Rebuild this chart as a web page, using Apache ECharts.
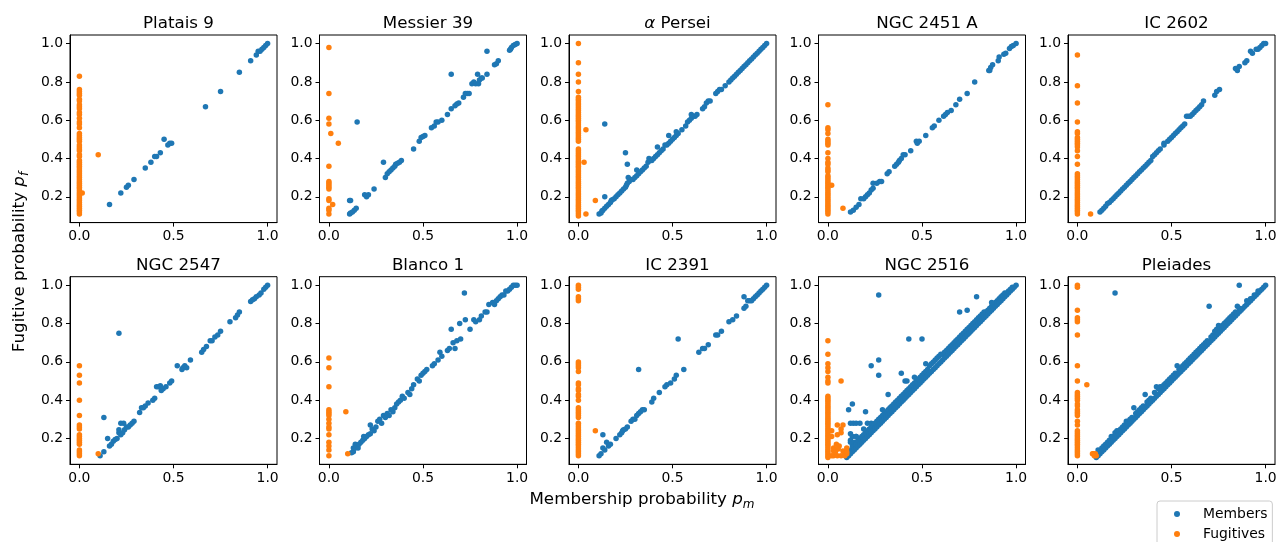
<!DOCTYPE html>
<html>
<head>
<meta charset="utf-8">
<script src="https://cdn.jsdelivr.net/npm/echarts@6/dist/echarts.min.js"></script>
<style>
  html, body { margin: 0; padding: 0; background: #fff; }
  #main { width: 1284px; height: 542px; }
</style>
</head>
<body>
<div id="main"></div>
<script>
// panel titles
var clusterNames = ['Platais 9', 'Messier 39', '{a|α} Persei', 'NGC 2451 A', 'IC 2602',
    'NGC 2547', 'Blanco 1', 'IC 2391', 'NGC 2516', 'Pleiades'];

var xTicks = [0, 0.5, 1.0];
var yTicks = [0.2, 0.4, 0.6, 0.8, 1.0];

// Platais 9
var platais9Members = [[0.16,0.16],[0.22,0.22],[0.25,0.25],[0.26,0.26],[0.29,0.29],[0.35,0.35],[0.38,0.38],[0.40,0.41],[0.41,0.41],[0.43,0.43],[0.45,0.50],[0.47,0.47],[0.48,0.48],[0.49,0.48],[0.67,0.67],[0.75,0.75],[0.85,0.85],[0.91,0.91],[0.94,0.94],[0.95,0.96],[0.96,0.96],[0.97,0.97],[0.98,0.98],[0.99,0.99],[1.0,1.0]];
var platais9FugZero = [0.83,0.76,0.75,0.74,0.73,0.71,0.70,0.68,0.67,0.66,0.64,0.63,0.61,0.59,0.58,0.56,0.53,0.52,0.51,0.50,0.49,0.47,0.46,0.45,0.44,0.42,0.41,0.39,0.38,0.37,0.36,0.35,0.34,0.33,0.32,0.31,0.30,0.29,0.28,0.27,0.26,0.25,0.24,0.23,0.22,0.21,0.20,0.19,0.18,0.17,0.16,0.15,0.14,0.13,0.12,0.11];
var platais9FugOther = [[0.10,0.42],[0.015,0.22]];

// Messier 39
var messier39Members = [[0.11,0.18],[0.115,0.18],[0.11,0.11],[0.115,0.115],[0.125,0.12],[0.135,0.13],[0.145,0.14],[0.15,0.59],[0.19,0.21],[0.20,0.20],[0.21,0.21],[0.24,0.24],[0.29,0.38],[0.30,0.30],[0.31,0.32],[0.32,0.33],[0.33,0.34],[0.34,0.35],[0.35,0.36],[0.355,0.37],[0.365,0.375],[0.375,0.38],[0.385,0.39],[0.45,0.45],[0.48,0.49],[0.49,0.51],[0.50,0.515],[0.51,0.52],[0.545,0.56],[0.56,0.57],[0.57,0.59],[0.58,0.59],[0.60,0.60],[0.63,0.63],[0.65,0.84],[0.65,0.66],[0.67,0.675],[0.68,0.685],[0.69,0.69],[0.715,0.72],[0.725,0.74],[0.735,0.74],[0.745,0.74],[0.76,0.79],[0.77,0.80],[0.78,0.79],[0.79,0.84],[0.795,0.79],[0.80,0.81],[0.81,0.82],[0.815,0.82],[0.84,0.96],[0.84,0.84],[0.88,0.89],[0.89,0.895],[0.90,0.91],[0.96,0.965],[0.965,0.97],[0.97,0.98],[0.98,0.99],[0.99,0.995],[1.0,1.0]];
var messier39FugZero = [0.98,0.74,0.61,0.58,0.36,0.28,0.27,0.26,0.25,0.24,0.19,0.18,0.14,0.13,0.11];
var messier39FugOther = [[0.01,0.53],[0.05,0.48],[0.02,0.16]];

// alpha Persei
var alphaPerMembers = [[0.11,0.11],[0.12,0.115],[0.125,0.125],[0.13,0.13],[0.14,0.14],[0.15,0.15],[0.16,0.16],[0.17,0.17],[0.175,0.18],[0.18,0.185],[0.19,0.19],[0.20,0.20],[0.21,0.21],[0.22,0.22],[0.23,0.23],[0.24,0.24],[0.25,0.25],[0.255,0.26],[0.26,0.27],[0.27,0.28],[0.28,0.29],[0.29,0.29],[0.30,0.30],[0.31,0.31],[0.32,0.32],[0.33,0.33],[0.34,0.34],[0.35,0.35],[0.36,0.36],[0.37,0.38],[0.375,0.40],[0.38,0.39],[0.39,0.39],[0.40,0.40],[0.41,0.41],[0.42,0.42],[0.43,0.43],[0.44,0.44],[0.45,0.45],[0.46,0.47],[0.47,0.47],[0.48,0.48],[0.49,0.49],[0.50,0.50],[0.51,0.51],[0.52,0.52],[0.53,0.53],[0.55,0.55],[0.57,0.57],[0.58,0.59],[0.59,0.60],[0.60,0.61],[0.61,0.62],[0.62,0.62],[0.63,0.63],[0.66,0.66],[0.67,0.67],[0.68,0.69],[0.69,0.70],[0.70,0.70],[0.73,0.74],[0.74,0.75],[0.75,0.76],[0.76,0.76],[0.78,0.78],[0.80,0.80],[0.81,0.81],[0.82,0.82],[0.83,0.83],[0.84,0.84],[0.85,0.85],[0.86,0.86],[0.87,0.87],[0.88,0.88],[0.89,0.89],[0.90,0.90],[0.91,0.91],[0.92,0.92],[0.93,0.93],[0.94,0.94],[0.95,0.95],[0.96,0.96],[0.97,0.97],[0.98,0.98],[0.99,0.99],[1.0,1.0],
    [0.14,0.58],[0.14,0.20],[0.25,0.43],[0.26,0.37],[0.265,0.30],[0.31,0.34],[0.42,0.46],[0.48,0.52],[0.52,0.54],[0.60,0.63]];
var alphaPerFugZero = [1.0,0.90,0.84,0.80,0.75,0.72,0.71,0.70,0.69,0.68,0.67,0.66,0.65,0.64,0.63,0.62,0.61,0.60,0.59,0.58,0.57,0.56,0.55,0.54,0.53,0.52,0.51,0.50,0.49,0.45,0.44,0.43,0.42,0.41,0.40,0.39,0.38,0.37,0.36,0.35,0.34,0.33,0.32,0.31,0.30,0.29,0.28,0.27,0.26,0.25,0.24,0.23,0.22,0.21,0.20,0.19,0.18,0.17,0.16,0.15,0.14,0.13,0.12,0.11,0.10];
var alphaPerFugOther = [[0.04,0.55],[0.03,0.38],[0.09,0.18],[0.04,0.11]];

// NGC 2451 A
var ngc2451Members = [[0.12,0.12],[0.135,0.13],[0.15,0.145],[0.165,0.16],[0.175,0.19],[0.19,0.19],[0.20,0.20],[0.21,0.21],[0.22,0.22],[0.23,0.235],[0.24,0.245],[0.24,0.27],[0.26,0.27],[0.275,0.28],[0.285,0.28],[0.315,0.32],[0.325,0.33],[0.355,0.36],[0.365,0.37],[0.375,0.38],[0.38,0.39],[0.39,0.40],[0.40,0.42],[0.41,0.42],[0.44,0.44],[0.47,0.49],[0.475,0.48],[0.485,0.49],[0.52,0.52],[0.555,0.56],[0.565,0.57],[0.59,0.60],[0.615,0.62],[0.625,0.63],[0.635,0.64],[0.655,0.65],[0.68,0.68],[0.70,0.71],[0.74,0.74],[0.78,0.80],[0.855,0.86],[0.86,0.86],[0.865,0.875],[0.875,0.89],[0.905,0.91],[0.91,0.93],[0.935,0.945],[0.945,0.95],[0.965,0.975],[0.975,0.985],[0.985,0.99],[1.0,1.0]];
var ngc2451FugZero = [0.68,0.56,0.55,0.53,0.50,0.49,0.48,0.47,0.43,0.40,0.38,0.37,0.35,0.34,0.33,0.31,0.30,0.29,0.28,0.27,0.26,0.25,0.24,0.23,0.22,0.21,0.20,0.19,0.18,0.17,0.16,0.15,0.14,0.13,0.12,0.11];
var ngc2451FugOther = [[0.02,0.26],[0.08,0.14]];

// IC 2602
var ic2602Members = [[0.12,0.12],[0.13,0.13],[0.14,0.14],[0.15,0.15],[0.16,0.165],[0.17,0.17],[0.18,0.18],[0.19,0.19],[0.20,0.20],[0.21,0.21],[0.22,0.22],[0.23,0.23],[0.24,0.24],[0.25,0.25],[0.26,0.26],[0.27,0.27],[0.28,0.28],[0.29,0.29],[0.30,0.30],[0.31,0.31],[0.32,0.32],[0.33,0.33],[0.34,0.34],[0.35,0.35],[0.36,0.36],[0.37,0.37],[0.38,0.38],[0.39,0.39],[0.40,0.41],[0.41,0.42],[0.42,0.43],[0.43,0.44],[0.44,0.45],[0.46,0.47],[0.46,0.48],[0.48,0.49],[0.49,0.50],[0.50,0.51],[0.51,0.52],[0.52,0.53],[0.53,0.54],[0.54,0.55],[0.55,0.56],[0.56,0.57],[0.57,0.58],[0.58,0.62],[0.59,0.62],[0.60,0.62],[0.61,0.63],[0.62,0.64],[0.63,0.65],[0.64,0.66],[0.65,0.67],[0.66,0.68],[0.67,0.70],[0.73,0.73],[0.74,0.75],[0.755,0.76],[0.84,0.87],[0.85,0.86],[0.86,0.88],[0.89,0.90],[0.90,0.91],[0.92,0.96],[0.93,0.95],[0.95,0.97],[0.96,0.97],[0.97,0.98],[0.98,0.99],[0.99,1.0],[1.0,1.0]];
var ic2602FugZero = [0.94,0.78,0.69,0.59,0.54,0.53,0.51,0.50,0.49,0.48,0.47,0.46,0.44,0.41,0.37,0.32,0.31,0.30,0.29,0.28,0.27,0.26,0.25,0.24,0.23,0.22,0.21,0.20,0.19,0.18,0.17,0.16,0.15,0.14,0.13,0.12,0.11];
var ic2602FugOther = [[0.07,0.11]];

// NGC 2547
var ngc2547Members = [[0.11,0.11],[0.13,0.31],[0.13,0.13],[0.15,0.20],[0.16,0.16],[0.17,0.17],[0.18,0.185],[0.19,0.195],[0.20,0.20],[0.21,0.23],[0.21,0.75],[0.21,0.245],[0.22,0.28],[0.235,0.28],[0.25,0.26],[0.22,0.22],[0.23,0.23],[0.24,0.245],[0.26,0.26],[0.27,0.27],[0.28,0.28],[0.29,0.29],[0.32,0.335],[0.33,0.36],[0.34,0.36],[0.35,0.37],[0.365,0.385],[0.39,0.40],[0.40,0.41],[0.41,0.47],[0.42,0.47],[0.43,0.475],[0.435,0.45],[0.445,0.46],[0.46,0.47],[0.48,0.49],[0.49,0.50],[0.52,0.58],[0.545,0.56],[0.55,0.57],[0.56,0.58],[0.57,0.57],[0.59,0.61],[0.65,0.65],[0.66,0.665],[0.675,0.68],[0.695,0.71],[0.705,0.71],[0.72,0.73],[0.735,0.74],[0.75,0.76],[0.80,0.81],[0.83,0.83],[0.84,0.845],[0.85,0.86],[0.91,0.915],[0.92,0.925],[0.93,0.93],[0.94,0.94],[0.955,0.95],[0.965,0.96],[0.98,0.98],[0.99,0.99],[1.0,1.0]];
var ngc2547FugZero = [0.58,0.53,0.49,0.40,0.32,0.27,0.26,0.25,0.22,0.21,0.20,0.19,0.18,0.17,0.14,0.13,0.12,0.11];
var ngc2547FugOther = [[0.10,0.12]];

// Blanco 1
var blanco1Members = [[0.12,0.125],[0.13,0.13],[0.13,0.15],[0.14,0.17],[0.14,0.15],[0.155,0.15],[0.16,0.17],[0.17,0.18],[0.18,0.19],[0.185,0.21],[0.19,0.20],[0.20,0.21],[0.21,0.22],[0.22,0.225],[0.22,0.27],[0.23,0.25],[0.24,0.24],[0.25,0.26],[0.26,0.29],[0.27,0.30],[0.28,0.28],[0.29,0.32],[0.30,0.31],[0.31,0.33],[0.32,0.32],[0.33,0.35],[0.34,0.34],[0.35,0.36],[0.36,0.38],[0.37,0.39],[0.38,0.40],[0.39,0.42],[0.40,0.41],[0.42,0.44],[0.43,0.43],[0.44,0.46],[0.45,0.48],[0.47,0.51],[0.48,0.50],[0.49,0.53],[0.50,0.54],[0.51,0.55],[0.52,0.56],[0.55,0.58],[0.56,0.59],[0.58,0.61],[0.59,0.65],[0.60,0.63],[0.63,0.66],[0.64,0.67],[0.65,0.77],[0.67,0.67],[0.66,0.70],[0.68,0.71],[0.70,0.72],[0.695,0.80],[0.725,0.82],[0.72,0.96],[0.75,0.77],[0.77,0.82],[0.78,0.81],[0.80,0.82],[0.81,0.84],[0.83,0.86],[0.84,0.86],[0.85,0.90],[0.87,0.91],[0.88,0.90],[0.89,0.92],[0.90,0.93],[0.91,0.94],[0.92,0.95],[0.93,0.95],[0.94,0.97],[0.95,0.97],[0.96,0.98],[0.97,0.99],[0.98,1.0],[0.99,1.0],[1.0,1.0]];
var blanco1FugZero = [0.62,0.57,0.47,0.35,0.34,0.33,0.32,0.30,0.28,0.26,0.25,0.22,0.18,0.16,0.14,0.11];
var blanco1FugOther = [[0.09,0.34],[0.10,0.12]];

// IC 2391
var ic2391Members = [[0.11,0.11],[0.12,0.12],[0.13,0.15],[0.13,0.22],[0.14,0.14],[0.15,0.18],[0.16,0.16],[0.17,0.17],[0.20,0.20],[0.22,0.22],[0.23,0.23],[0.235,0.24],[0.24,0.245],[0.25,0.25],[0.26,0.26],[0.28,0.29],[0.29,0.30],[0.30,0.30],[0.31,0.32],[0.32,0.56],[0.32,0.33],[0.33,0.34],[0.34,0.35],[0.35,0.35],[0.39,0.39],[0.40,0.41],[0.43,0.44],[0.46,0.47],[0.47,0.48],[0.49,0.49],[0.51,0.51],[0.52,0.53],[0.53,0.72],[0.56,0.56],[0.64,0.65],[0.66,0.67],[0.67,0.67],[0.69,0.69],[0.73,0.74],[0.74,0.74],[0.76,0.76],[0.80,0.81],[0.82,0.82],[0.84,0.84],[0.88,0.94],[0.88,0.88],[0.89,0.89],[0.90,0.92],[0.91,0.92],[0.92,0.92],[0.93,0.93],[0.94,0.94],[0.95,0.95],[0.96,0.96],[0.97,0.97],[0.98,0.98],[0.99,0.99],[1.0,1.0]];
var ic2391FugZero = [1.0,0.99,0.98,0.94,0.93,0.92,0.60,0.59,0.58,0.57,0.55,0.49,0.48,0.46,0.45,0.43,0.42,0.40,0.36,0.35,0.34,0.33,0.32,0.31,0.28,0.27,0.26,0.25,0.24,0.23,0.22,0.21,0.20,0.19,0.18,0.17,0.16,0.15,0.14,0.13,0.12,0.11];
var ic2391FugOther = [[0.09,0.24]];

// NGC 2516
var ngc2516Members = [[0.10,0.10],[0.11,0.11],[0.11,0.13],[0.12,0.12],[0.12,0.14],[0.12,0.19],[0.13,0.13],[0.13,0.16],[0.13,0.21],[0.14,0.14],[0.14,0.18],[0.15,0.15],[0.15,0.17],[0.15,0.21],[0.16,0.16],[0.16,0.19],[0.17,0.17],[0.17,0.20],[0.18,0.18],[0.18,0.21],[0.19,0.19],[0.19,0.22],[0.20,0.20],[0.20,0.23],[0.21,0.21],[0.21,0.24],[0.22,0.22],[0.22,0.25],[0.23,0.23],[0.23,0.26],[0.24,0.24],[0.24,0.27],[0.25,0.25],[0.25,0.28],[0.26,0.26],[0.26,0.29],[0.27,0.27],[0.27,0.30],[0.28,0.28],[0.28,0.31],[0.29,0.29],[0.29,0.32],[0.30,0.30],[0.30,0.33],[0.31,0.31],[0.31,0.34],[0.32,0.32],[0.32,0.35],[0.33,0.33],[0.33,0.36],[0.34,0.34],[0.34,0.37],[0.35,0.35],[0.35,0.38],[0.36,0.36],[0.36,0.39],[0.37,0.37],[0.37,0.40],[0.38,0.38],[0.38,0.41],[0.39,0.39],[0.39,0.42],[0.40,0.40],[0.40,0.43],[0.41,0.41],[0.41,0.44],[0.42,0.42],[0.42,0.45],[0.43,0.43],[0.43,0.46],[0.44,0.44],[0.44,0.47],[0.45,0.45],[0.45,0.48],[0.46,0.46],[0.46,0.49],[0.47,0.47],[0.47,0.50],[0.48,0.48],[0.48,0.51],[0.49,0.49],[0.49,0.52],[0.50,0.50],[0.50,0.53],[0.51,0.51],[0.51,0.54],[0.52,0.52],[0.52,0.55],[0.53,0.53],[0.53,0.56],[0.54,0.54],[0.54,0.58],[0.55,0.55],[0.55,0.59],[0.56,0.56],[0.56,0.60],[0.57,0.57],[0.57,0.61],[0.58,0.58],[0.58,0.62],[0.59,0.59],[0.59,0.63],[0.60,0.60],[0.60,0.64],[0.61,0.61],[0.61,0.64],[0.62,0.62],[0.62,0.65],[0.63,0.63],[0.63,0.66],[0.64,0.64],[0.64,0.67],[0.65,0.65],[0.65,0.68],[0.66,0.66],[0.66,0.69],[0.67,0.67],[0.67,0.70],[0.68,0.68],[0.68,0.71],[0.69,0.69],[0.69,0.72],[0.70,0.70],[0.70,0.73],[0.71,0.71],[0.71,0.74],[0.72,0.72],[0.72,0.75],[0.73,0.73],[0.73,0.76],[0.74,0.74],[0.74,0.77],[0.75,0.75],[0.75,0.78],[0.76,0.76],[0.76,0.79],[0.77,0.77],[0.77,0.80],[0.78,0.78],[0.78,0.81],[0.79,0.79],[0.79,0.82],[0.80,0.80],[0.80,0.83],[0.81,0.81],[0.81,0.84],[0.82,0.82],[0.82,0.85],[0.83,0.83],[0.83,0.86],[0.84,0.84],[0.84,0.86],[0.85,0.85],[0.85,0.87],[0.86,0.86],[0.86,0.88],[0.87,0.87],[0.87,0.89],[0.88,0.88],[0.88,0.90],[0.89,0.89],[0.89,0.91],[0.90,0.90],[0.90,0.92],[0.91,0.91],[0.91,0.93],[0.92,0.92],[0.92,0.94],[0.93,0.93],[0.93,0.95],[0.94,0.94],[0.94,0.96],[0.95,0.95],[0.95,0.96],[0.96,0.96],[0.96,0.97],[0.97,0.97],[0.97,0.98],[0.98,0.98],[0.98,0.99],[0.99,0.99],[1.0,1.0],
    [0.27,0.95],[0.43,0.72],[0.50,0.72],[0.27,0.61],[0.27,0.53],[0.23,0.58],[0.39,0.54],[0.32,0.43],[0.41,0.50],[0.42,0.50],[0.46,0.52],[0.52,0.59],[0.13,0.38],[0.11,0.35],[0.20,0.34],[0.12,0.28],[0.135,0.28],[0.15,0.28],[0.17,0.28],[0.19,0.25],[0.21,0.28],[0.23,0.28],[0.12,0.225],[0.12,0.18],[0.15,0.21],[0.70,0.86],[0.74,0.87],[0.79,0.94],[0.87,0.91],[0.29,0.35]];
var ngc2516FugZero = [0.71,0.64,0.59,0.57,0.55,0.52,0.50,0.49,0.42,0.41,0.40,0.39,0.38,0.37,0.36,0.35,0.34,0.33,0.32,0.31,0.30,0.29,0.28,0.27,0.26,0.25,0.24,0.23,0.22,0.21,0.20,0.19,0.18,0.17,0.16,0.15,0.14,0.13,0.12,0.11,0.10];
var ngc2516FugOther = [[0.07,0.50],[0.02,0.24],[0.02,0.21],[0.05,0.27],[0.07,0.25],[0.08,0.27],[0.05,0.22],[0.07,0.23],[0.045,0.17],[0.06,0.16],[0.03,0.135],[0.055,0.145],[0.08,0.135],[0.09,0.12],[0.03,0.11],[0.05,0.11],[0.07,0.11],[0.09,0.11],[0.10,0.12],[0.10,0.13],[0.02,0.11],[0.04,0.13],[0.03,0.15],[0.10,0.15]];

// Pleiades
var pleiadesMembers = [[0.10,0.10],[0.11,0.11],[0.11,0.14],[0.12,0.12],[0.12,0.13],[0.13,0.13],[0.13,0.15],[0.14,0.14],[0.14,0.16],[0.15,0.15],[0.15,0.17],[0.16,0.16],[0.16,0.18],[0.17,0.17],[0.17,0.19],[0.18,0.18],[0.18,0.21],[0.19,0.19],[0.19,0.21],[0.20,0.20],[0.20,0.23],[0.21,0.21],[0.21,0.24],[0.22,0.22],[0.22,0.24],[0.23,0.23],[0.23,0.25],[0.24,0.24],[0.24,0.26],[0.25,0.25],[0.25,0.27],[0.26,0.26],[0.26,0.29],[0.27,0.27],[0.27,0.29],[0.28,0.28],[0.28,0.30],[0.29,0.29],[0.29,0.31],[0.30,0.30],[0.30,0.36],[0.31,0.31],[0.31,0.33],[0.32,0.32],[0.32,0.34],[0.33,0.33],[0.33,0.35],[0.34,0.34],[0.34,0.36],[0.35,0.35],[0.35,0.37],[0.36,0.36],[0.36,0.43],[0.37,0.37],[0.37,0.39],[0.38,0.38],[0.38,0.40],[0.39,0.39],[0.39,0.41],[0.40,0.40],[0.41,0.41],[0.41,0.44],[0.42,0.42],[0.42,0.47],[0.43,0.43],[0.43,0.46],[0.44,0.44],[0.44,0.47],[0.45,0.45],[0.45,0.47],[0.46,0.46],[0.46,0.48],[0.47,0.47],[0.47,0.49],[0.48,0.48],[0.48,0.50],[0.49,0.49],[0.49,0.51],[0.50,0.50],[0.50,0.52],[0.51,0.51],[0.51,0.53],[0.52,0.52],[0.52,0.54],[0.53,0.53],[0.53,0.58],[0.54,0.54],[0.54,0.56],[0.55,0.55],[0.55,0.57],[0.56,0.56],[0.56,0.58],[0.57,0.57],[0.57,0.59],[0.58,0.58],[0.58,0.60],[0.59,0.59],[0.59,0.61],[0.60,0.60],[0.60,0.62],[0.61,0.61],[0.61,0.63],[0.62,0.62],[0.62,0.64],[0.63,0.63],[0.63,0.65],[0.64,0.64],[0.64,0.66],[0.65,0.65],[0.65,0.67],[0.66,0.66],[0.66,0.68],[0.67,0.67],[0.67,0.69],[0.68,0.68],[0.68,0.70],[0.69,0.69],[0.69,0.71],[0.70,0.70],[0.70,0.89],[0.71,0.71],[0.71,0.73],[0.72,0.72],[0.72,0.74],[0.73,0.73],[0.73,0.76],[0.74,0.74],[0.74,0.77],[0.75,0.75],[0.75,0.79],[0.76,0.76],[0.76,0.78],[0.77,0.77],[0.77,0.79],[0.78,0.78],[0.78,0.80],[0.79,0.79],[0.79,0.81],[0.80,0.80],[0.80,0.82],[0.81,0.81],[0.81,0.83],[0.82,0.82],[0.82,0.84],[0.83,0.83],[0.83,0.85],[0.84,0.84],[0.84,0.86],[0.85,0.85],[0.85,0.89],[0.86,0.86],[0.86,1.0],[0.86,0.88],[0.87,0.87],[0.88,0.88],[0.89,0.89],[0.90,0.90],[0.90,0.92],[0.91,0.91],[0.92,0.92],[0.92,0.93],[0.93,0.93],[0.94,0.94],[0.94,0.95],[0.95,0.95],[0.96,0.96],[0.96,0.97],[0.97,0.97],[0.98,0.98],[0.99,0.99],[1.0,1.0],[0.20,0.96]];
var pleiadesFugZero = [1.0,0.99,0.87,0.83,0.82,0.81,0.74,0.58,0.50,0.44,0.43,0.42,0.41,0.40,0.38,0.37,0.35,0.34,0.33,0.32,0.29,0.27,0.24,0.23,0.22,0.21,0.20,0.19,0.18,0.17,0.16,0.15,0.14,0.13,0.12,0.11];
var pleiadesFugOther = [[0.05,0.48],[0.085,0.12],[0.095,0.12],[0.10,0.11],[0.09,0.11],[0.08,0.12]];

var memberSets = [platais9Members, messier39Members, alphaPerMembers, ngc2451Members, ic2602Members,
    ngc2547Members, blanco1Members, ic2391Members, ngc2516Members, pleiadesMembers];
var fugZeroSets = [platais9FugZero, messier39FugZero, alphaPerFugZero, ngc2451FugZero, ic2602FugZero,
    ngc2547FugZero, blanco1FugZero, ic2391FugZero, ngc2516FugZero, pleiadesFugZero];
var fugOtherSets = [platais9FugOther, messier39FugOther, alphaPerFugOther, ngc2451FugOther, ic2602FugOther,
    ngc2547FugOther, blanco1FugOther, ic2391FugOther, ngc2516FugOther, pleiadesFugOther];

var FONT = 'DejaVu Sans';
var colLeft = [70, 319.5, 569, 818.5, 1068];
var rowTop = [35, 276.7];
var panelW = 207, panelH = 187.6;

var chart = echarts.init(document.getElementById('main'));

var grids = [], xAxes = [], yAxes = [], titles = [], series = [];
for (var i = 0; i < 10; i++) {
    var r = Math.floor(i / 5), c = i % 5;
    grids.push({
        left: colLeft[c], top: rowTop[r], width: panelW, height: panelH,
        show: true, borderColor: '#000', borderWidth: 1, backgroundColor: 'transparent'
    });
    xAxes.push({
        type: 'value', gridIndex: i, min: -0.05, max: 1.05,
        axisLine: { show: true, onZero: false, lineStyle: { color: '#000', width: 1 } },
        axisTick: { show: true, customValues: xTicks, length: 4, lineStyle: { color: '#000', width: 1 } },
        axisLabel: { customValues: xTicks, margin: 7, color: '#000', fontSize: 13.9, fontFamily: FONT,
            formatter: function (v) { return v.toFixed(1); } },
        splitLine: { show: false }
    });
    yAxes.push({
        type: 'value', gridIndex: i, min: 0.065, max: 1.045,
        axisLine: { show: true, onZero: false, lineStyle: { color: '#000', width: 1 } },
        axisTick: { show: true, customValues: yTicks, length: 4, lineStyle: { color: '#000', width: 1 } },
        axisLabel: { customValues: yTicks, margin: 7, color: '#000', fontSize: 13.9, fontFamily: FONT,
            formatter: function (v) { return v.toFixed(1); } },
        splitLine: { show: false }
    });
    titles.push({
        text: clusterNames[i],
        left: colLeft[c] + panelW / 2, top: rowTop[r] - 25, textAlign: 'center',
        textStyle: { fontSize: 16.7, fontWeight: 'normal', color: '#000', fontFamily: FONT,
            rich: { a: { fontSize: 16.7, fontStyle: 'italic', fontFamily: FONT, color: '#000' } } }
    });
    series.push({
        name: 'Members', type: 'scatter', xAxisIndex: i, yAxisIndex: i,
        symbolSize: 5.5, itemStyle: { color: '#1f77b4', opacity: 1 },
        data: memberSets[i]
    });
    series.push({
        name: 'Fugitives', type: 'scatter', xAxisIndex: i, yAxisIndex: i,
        symbolSize: 5.5, itemStyle: { color: '#ff7f0e', opacity: 1 },
        data: fugZeroSets[i].map(function (y) { return [0, y]; }).concat(fugOtherSets[i])
    });
}

var option = {
    backgroundColor: '#fff',
    animation: false,
    title: titles,
    grid: grids,
    xAxis: xAxes,
    yAxis: yAxes,
    legend: {
        data: ['Members', 'Fugitives'],
        orient: 'vertical', left: 1157, top: 501, width: 116, height: 60,
        icon: 'circle', itemWidth: 26, itemHeight: 6, itemGap: 6,
        padding: [6, 5, 8, 17],
        borderColor: '#ccc', borderWidth: 1, borderRadius: 3,
        textStyle: { fontSize: 13.9, fontFamily: FONT, color: '#000', lineHeight: 14, padding: [0, 0, 0, 8] }
    },
    graphic: [
        {
            type: 'text', x: 642, y: 500,
            style: {
                text: '{n|Membership probability }{p|p}{s|m}',
                align: 'center', verticalAlign: 'middle',
                rich: {
                    n: { fontSize: 16.7, fontFamily: FONT, fill: '#000' },
                    p: { fontSize: 16.7, fontFamily: FONT, fontStyle: 'italic', fill: '#000' },
                    s: { fontSize: 12, fontFamily: FONT, fontStyle: 'italic', fill: '#000', padding: [10, 0, 0, 0] }
                }
            }
        },
        {
            type: 'text', x: 20, y: 262, rotation: Math.PI / 2,
            style: {
                text: '{n|Fugitive probability }{p|p}{s|f}',
                align: 'center', verticalAlign: 'middle',
                rich: {
                    n: { fontSize: 16.7, fontFamily: FONT, fill: '#000' },
                    p: { fontSize: 16.7, fontFamily: FONT, fontStyle: 'italic', fill: '#000' },
                    s: { fontSize: 12, fontFamily: FONT, fontStyle: 'italic', fill: '#000', padding: [10, 0, 0, 0] }
                }
            }
        }
    ],
    series: series
};

chart.setOption(option);
</script>
</body>
</html>
